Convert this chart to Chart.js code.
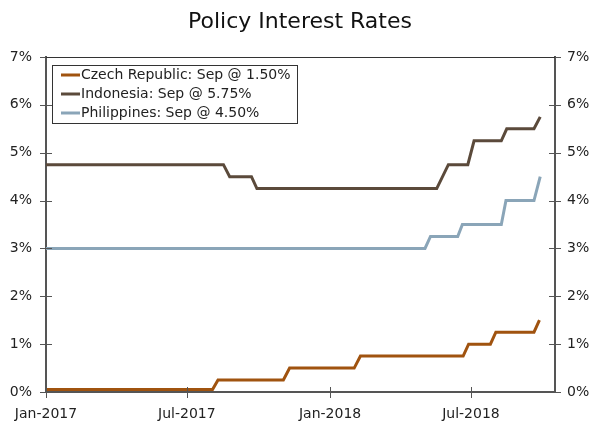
<!DOCTYPE html>
<html>
<head>
<meta charset="utf-8">
<script src="https://cdn.jsdelivr.net/npm/chart.js@4.4.1/dist/chart.umd.min.js"></script>
<style>
  html, body { margin: 0; padding: 0; background: #fff; }
  #wrap { width: 600px; height: 432px; }
</style>
</head>
<body>
<div id="wrap"><canvas id="chart"></canvas></div>
<script>
// DATA - step points (date, rate %)
const czechDates = ["2017-01-01", "2017-08-03", "2017-08-10", "2017-11-02", "2017-11-10", "2018-02-01", "2018-02-09",
  "2018-06-21", "2018-06-28", "2018-07-26", "2018-08-02", "2018-09-20", "2018-09-27"];
const czechRates = [0.05, 0.05, 0.25, 0.25, 0.50, 0.50, 0.75, 0.75, 1.00, 1.00, 1.25, 1.25, 1.50];

const indoDates = ["2017-01-01", "2017-08-17", "2017-08-25", "2017-09-22", "2017-09-29", "2018-05-18", "2018-06-02",
  "2018-06-27", "2018-07-05", "2018-08-09", "2018-08-16", "2018-09-20", "2018-09-28"];
const indoRates = [4.75, 4.75, 4.50, 4.50, 4.25, 4.25, 4.75, 4.75, 5.25, 5.25, 5.50, 5.50, 5.75];

const philDates = ["2017-01-01", "2018-05-03", "2018-05-10", "2018-06-14", "2018-06-20", "2018-08-09", "2018-08-15",
  "2018-09-20", "2018-09-28"];
const philRates = [3.00, 3.00, 3.25, 3.25, 3.50, 3.50, 4.00, 4.00, 4.50];

const seriesNames = ["Czech Republic: Sep @ 1.50%", "Indonesia: Sep @ 5.75%", "Philippines: Sep @ 4.50%"];
const seriesColors = ["#a0530f", "#5b4a3b", "#8aa5b8"];

const tickDates = ["2017-01-01", "2017-07-01", "2018-01-01", "2018-07-01"];
const tickLabels = ["Jan-2017", "Jul-2017", "Jan-2018", "Jul-2018"];
const axisEnd = "2018-10-17";

const FONT = "'DejaVu Sans', Verdana, sans-serif";
const START = Date.UTC(2017, 0, 1);

function dayNum(s) {
  const p = s.split("-");
  return (Date.UTC(+p[0], +p[1] - 1, +p[2]) - START) / 86400000;
}

function points(dates, rates) {
  return dates.map((d, i) => ({ x: dayNum(d), y: rates[i] }));
}

const tickDays = tickDates.map(dayNum);

// ticks that cross the axis lines, top border and legend box
const framePlugin = {
  id: "frame",
  afterDraw(chart) {
    const ctx = chart.ctx;
    const a = chart.chartArea;
    ctx.save();
    ctx.strokeStyle = "#555";
    ctx.lineWidth = 1;
    const ys = chart.scales.y;
    ys.ticks.forEach(t => {
      const py = Math.round(ys.getPixelForValue(t.value)) + 0.5;
      ctx.beginPath();
      ctx.moveTo(a.left - 6, py); ctx.lineTo(a.left + 6, py);
      ctx.moveTo(a.right - 6, py); ctx.lineTo(a.right + 6, py);
      ctx.stroke();
    });
    const xs = chart.scales.x;
    xs.ticks.forEach(t => {
      const px = Math.round(xs.getPixelForValue(t.value)) + 0.5;
      ctx.beginPath();
      ctx.moveTo(px, a.bottom - 5); ctx.lineTo(px, a.bottom + 6);
      ctx.stroke();
    });
    // top border
    ctx.strokeStyle = "#333";
    ctx.beginPath();
    ctx.moveTo(a.left, a.top + 0.5); ctx.lineTo(a.right, a.top + 0.5);
    ctx.stroke();

    // legend
    const lx = 52, ly = 65, lw = 245, lh = 58;
    ctx.fillStyle = "#fff";
    ctx.fillRect(lx, ly, lw, lh);
    ctx.strokeStyle = "#333";
    ctx.strokeRect(lx + 0.5, ly + 0.5, lw, lh);
    ctx.font = "14px " + FONT;
    ctx.textBaseline = "middle";
    chart.data.datasets.forEach((ds, i) => {
      const ry = ly + 10 + i * 19;
      ctx.strokeStyle = ds.borderColor;
      ctx.lineWidth = 3;
      ctx.beginPath();
      ctx.moveTo(lx + 9, ry); ctx.lineTo(lx + 28, ry);
      ctx.stroke();
      ctx.fillStyle = "#222";
      ctx.fillText(ds.label, lx + 29, ry);
    });
    ctx.restore();
  }
};

const dataSets = [
  [czechDates, czechRates],
  [indoDates, indoRates],
  [philDates, philRates]
].map((s, i) => ({
  label: seriesNames[i],
  data: points(s[0], s[1]),
  borderColor: seriesColors[i],
  backgroundColor: seriesColors[i],
  borderWidth: 3,
  pointRadius: 0,
  tension: 0,
  yAxisID: "y"
}));

new Chart(document.getElementById("chart"), {
  type: "line",
  data: { datasets: dataSets },
  plugins: [framePlugin],
  options: {
    responsive: true,
    maintainAspectRatio: false,
    animation: false,
    events: [],
    layout: { padding: { left: 0, right: 0, top: 0, bottom: 0 } },
    plugins: {
      legend: { display: false },
      tooltip: { enabled: false },
      title: {
        display: true,
        text: "Policy Interest Rates",
        color: "#111",
        font: { family: FONT, size: 22, weight: "normal" },
        padding: { top: 9, bottom: 21.6 }
      }
    },
    scales: {
      x: {
        type: "linear",
        min: 0,
        max: dayNum(axisEnd),
        afterBuildTicks: s => { s.ticks = tickDays.map(v => ({ value: v })); },
        afterFit: s => { s.height = 40; },
        grid: { display: false },
        border: { display: true, color: "#555", width: 2 },
        ticks: {
          autoSkip: false,
          maxRotation: 0,
          padding: 6,
          color: "#222",
          font: { family: FONT, size: 14 },
          callback: v => tickLabels[tickDays.indexOf(v)]
        }
      },
      y: {
        position: "left",
        min: 0,
        max: 7,
        afterFit: s => { s.width = 46; },
        grid: { display: false },
        border: { display: true, color: "#555", width: 2 },
        ticks: {
          stepSize: 1,
          padding: 6,
          color: "#222",
          font: { family: FONT, size: 14 },
          callback: v => v + "%"
        }
      },
      y2: {
        position: "right",
        min: 0,
        max: 7,
        afterFit: s => { s.width = 45; },
        grid: { display: false },
        border: { display: true, color: "#555", width: 2 },
        ticks: {
          stepSize: 1,
          padding: 4,
          color: "#222",
          font: { family: FONT, size: 14 },
          callback: v => v + "%"
        }
      }
    }
  }
});
</script>
</body>
</html>
